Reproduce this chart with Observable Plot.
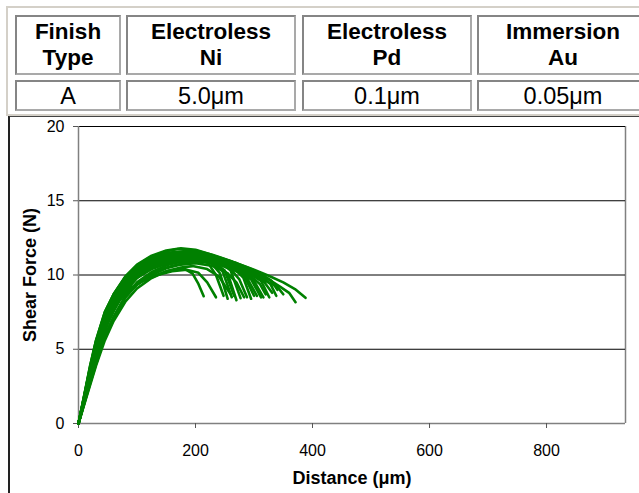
<!DOCTYPE html>
<html>
<head>
<meta charset="utf-8">
<script src="https://cdn.jsdelivr.net/npm/d3@7"></script>
<script src="https://cdn.jsdelivr.net/npm/@observablehq/plot@0.6"></script>
<style>
  html, body { margin: 0; padding: 0; background: #fff; }
  body { width: 639px; height: 493px; position: relative; overflow: hidden; font-family: "Liberation Sans", Arial, sans-serif; color: #000; }
  #finish { position: absolute; left: 6px; top: 6px; width: 720px; height: 110px; border: 2px solid #d4d0c8; box-sizing: border-box; z-index: 2; }
  .cell { position: absolute; box-sizing: border-box; border: 2px solid #858585; border-right-color: #a9a9a9; border-bottom-color: #a9a9a9;
          display: flex; flex-direction: column; align-items: center; justify-content: center; text-align: center; background: #fff; }
  .head { font-weight: bold; font-size: 22.5px; line-height: 26px; }
  .val { font-size: 23.5px; line-height: 26px; }
  #box { position: absolute; left: 8px; top: 115px; width: 700px; height: 420px; border-left: 2px solid #222; border-top: 2px solid #444; box-sizing: border-box; z-index: 0; }
  #chart { position: absolute; left: 0; top: 0; z-index: 1; }
</style>
</head>
<body>
<div id="box"></div>
<div id="chart"></div>
<div id="finish"></div>
<script>
// Coating stack of the finish under test
const headers = [["Finish", "Type"], ["Electroless", "Ni"], ["Electroless", "Pd"], ["Immersion", "Au"]];
const layerValues = ["A", "5.0μm", "0.1μm", "0.05μm"];

// Axis ticks
const xTicks = [0, 200, 400, 600, 800];
const yTicks = [0, 5, 10, 15, 20];
const xLabel = "Distance (μm)";
const yLabel = "Shear Force (N)";

// Shear force traces, [distance µm, force N]
const trace01 = [[0,0],[10,1.9],[20,3.9],[30,5.6],[45,7.5],[60,8.7],[80,9.9],[100,10.7],[125,11.3],[150,11.65],[175,11.8],[200,11.7],[225,11.4],[250,11.0],[270,10.5],[285,9.8],[300,8.6]];
const trace02 = [[0,0],[10,1.7],[20,3.5],[30,5.1],[45,7.0],[60,8.3],[80,9.5],[100,10.3],[125,10.9],[150,11.35],[185,11.6],[210,11.5],[240,11.2],[270,10.8],[295,10.4],[315,10.0],[330,9.6],[340,9.0]];
const trace03 = [[0,0],[10,1.6],[20,3.3],[30,4.9],[45,6.8],[60,8.1],[80,9.3],[100,10.1],[125,10.7],[150,11.15],[180,11.45],[210,11.4],[240,11.15],[270,10.8],[300,10.35],[325,9.95],[350,9.5],[370,9.05],[388,8.46]];
const trace04 = [[0,0],[10,1.55],[20,3.1],[30,4.6],[45,6.4],[60,7.8],[80,9.0],[100,9.9],[125,10.6],[150,11.0],[180,11.3],[205,11.35],[235,11.1],[265,10.75],[300,10.15],[325,9.7],[345,9.2],[360,8.8],[371,8.17]];
const trace05 = [[0,0],[10,1.85],[20,3.7],[30,5.4],[45,7.3],[60,8.5],[80,9.7],[100,10.4],[125,10.9],[150,11.15],[175,11.3],[200,11.25],[220,10.9],[235,10.0],[248,8.6]];
const trace06 = [[0,0],[10,1.5],[20,3.0],[30,4.5],[45,6.3],[60,7.6],[80,8.9],[100,9.8],[125,10.5],[150,10.9],[175,11.1],[200,11.2],[225,11.0],[245,10.4],[262,8.5]];
const trace07 = [[0,0],[10,1.9],[20,3.8],[30,5.5],[45,7.4],[60,8.6],[80,9.8],[100,10.5],[125,11.1],[150,11.4],[180,11.5],[210,11.35],[240,10.95],[260,10.3],[277,8.44]];
const trace08 = [[0,0],[10,1.6],[20,3.2],[30,4.7],[45,6.5],[60,7.9],[80,9.1],[100,9.9],[125,10.5],[150,10.85],[180,11.05],[205,11.1],[235,10.85],[260,10.4],[275,9.7],[288,8.5]];
const trace09 = [[0,0],[10,1.75],[20,3.5],[30,5.1],[45,7.0],[60,8.3],[80,9.5],[100,10.25],[125,10.85],[150,11.15],[175,11.3],[200,11.3],[230,11.05],[260,10.6],[285,10.0],[305,8.6]];
const trace10 = [[0,0],[10,1.5],[20,3.05],[30,4.55],[45,6.3],[60,7.7],[80,8.95],[100,9.8],[125,10.4],[150,10.75],[180,10.95],[210,11.0],[240,10.8],[270,10.35],[295,9.9],[310,9.4],[320,8.7]];
const trace11 = [[0,0],[10,1.8],[20,3.7],[30,5.4],[45,7.3],[60,8.55],[80,9.7],[100,10.45],[125,11.0],[150,11.3],[185,11.4],[215,11.25],[245,10.9],[275,10.45],[300,10.0],[318,9.5],[331,8.8]];
const trace12 = [[0,0],[10,1.7],[20,3.4],[30,5.0],[45,6.9],[60,8.2],[80,9.4],[100,10.15],[125,10.75],[150,11.05],[175,11.2],[200,11.2],[225,10.9],[242,10.1],[255,8.4]];
const trace13 = [[0,0],[10,1.4],[20,2.8],[30,4.1],[45,5.9],[60,7.2],[80,8.6],[100,9.5],[125,10.2],[150,10.65],[175,10.9],[200,11.0],[230,10.8],[255,10.1],[270,8.3]];
const trace14 = [[0,0],[10,1.95],[20,3.9],[30,5.6],[45,7.5],[60,8.7],[80,9.85],[100,10.6],[125,11.2],[150,11.5],[180,11.6],[210,11.45],[240,11.05],[265,10.5],[282,9.8],[295,8.4]];
const trace15 = [[0,0],[10,1.35],[20,2.7],[30,4.0],[45,5.8],[60,7.1],[80,8.5],[100,9.4],[125,10.1],[150,10.5],[180,10.8],[210,10.9],[240,10.7],[270,10.25],[295,9.7],[312,8.5]];
const trace16 = [[0,0],[10,1.65],[20,3.3],[30,4.9],[45,6.8],[60,8.1],[80,9.3],[100,10.1],[125,10.7],[150,11.05],[175,11.25],[200,11.3],[230,11.1],[260,10.7],[290,10.15],[312,9.6],[326,8.5]];
const trace17 = [[0,0],[10,1.55],[20,3.1],[30,4.6],[45,6.4],[60,7.75],[80,9.0],[100,9.85],[125,10.5],[150,10.85],[190,11.1],[220,11.0],[250,10.7],[280,10.3],[305,9.9],[325,9.5],[340,9.2],[350,8.7]];
const trace18 = [[0,0],[10,1.4],[20,2.75],[30,4.1],[45,5.85],[60,7.15],[80,8.5],[100,9.35],[125,10.0],[150,10.45],[175,10.7],[200,10.8],[230,10.6],[255,10.1],[270,9.5],[283,8.5]];
const trace19 = [[0,0],[10,1.3],[20,2.6],[30,3.9],[45,5.6],[60,6.9],[80,8.2],[100,9.1],[125,9.8],[150,10.25],[175,10.5],[195,10.6],[220,10.4],[240,9.9],[260,8.7]];
const trace20 = [[0,0],[10,1.5],[20,3.0],[30,4.5],[50,6.9],[70,8.4],[90,9.15],[110,9.6],[130,9.95],[155,10.3],[180,10.45],[195,10.1],[205,9.4],[214,8.57]];
const trace21 = [[0,0],[10,1.45],[20,2.9],[30,4.4],[50,6.8],[70,8.3],[90,9.1],[110,9.6],[135,10.0],[160,10.25],[185,10.35],[205,10.15],[220,9.5],[235,8.5]];
const trace22 = [[0,0],[10,1.85],[20,3.75],[30,5.45],[45,7.4],[60,8.65],[80,9.85],[100,10.65],[125,11.25],[150,11.6],[170,11.75],[200,11.65],[230,11.35],[260,10.95],[290,10.4],[312,9.9],[328,9.4],[338,8.6]];
const trace23 = [[0,0],[10,1.75],[20,3.55],[30,5.2],[45,7.1],[60,8.4],[80,9.6],[100,10.35],[125,10.95],[150,11.25],[190,11.4],[220,11.2],[250,10.8],[280,10.2],[300,9.6],[316,8.5]];
const trace24 = [[0,0],[10,1.6],[20,3.15],[30,4.65],[45,6.5],[60,7.85],[80,9.05],[100,9.9],[125,10.55],[150,10.95],[180,11.15],[205,11.15],[230,10.9],[250,10.3],[266,8.6]];

const traces = [trace01, trace02, trace03, trace04, trace05, trace06, trace07, trace08, trace09, trace10, trace11, trace12,
                trace13, trace14, trace15, trace16, trace17, trace18, trace19, trace20, trace21, trace22, trace23, trace24];
const rows = traces.flatMap((t, i) => t.map(([d, f]) => ({trace: i, d, f})));

// Layer table above the chart
const finish = document.getElementById("finish");
const colLeft = [13, 124, 300, 475];
const colWidth = [106, 170, 170, 172];
function addCell(left, top, w, h, cls, lines) {
  const c = document.createElement("div");
  c.className = "cell " + cls;
  c.style.left = (left - 6) + "px";
  c.style.top = (top - 6) + "px";
  c.style.width = w + "px";
  c.style.height = h + "px";
  for (const line of lines) {
    const s = document.createElement("div");
    s.textContent = line;
    c.appendChild(s);
  }
  finish.appendChild(c);
}
headers.forEach((h, i) => addCell(colLeft[i], 13, colWidth[i], 60, "head", h));
layerValues.forEach((v, i) => addCell(colLeft[i], 78, colWidth[i], 31, "val", [v]));

const chart = Plot.plot({
  width: 639,
  height: 493,
  marginLeft: 78,
  marginRight: 14,
  marginTop: 126,
  marginBottom: 70,
  style: {background: "transparent", fontFamily: "'Liberation Sans', Arial, sans-serif", fontSize: "16px", color: "#000"},
  x: {domain: [0, 935]},
  y: {domain: [0, 20]},
  marks: [
    Plot.ruleX([935], {stroke: "#808080", strokeWidth: 1.5}),
    Plot.ruleY([5, 10, 15, 20], {stroke: "#000", strokeWidth: 1}),
    Plot.ruleX([0], {stroke: "#808080", strokeWidth: 1.5}),
    Plot.ruleY([0], {stroke: "#808080", strokeWidth: 1.5}),
    Plot.axisX({ticks: xTicks, tickSize: 5, tickPadding: 16, stroke: "#555", label: null, fontSize: 16, fill: "#000"}),
    Plot.axisY({ticks: yTicks, tickSize: 5, tickPadding: 9, stroke: "#555", label: null, fontSize: 16, fill: "#000"}),
    Plot.line(rows, {x: "d", y: "f", z: "trace", stroke: "#008000", strokeWidth: 2.6, curve: "linear"}),
    Plot.text([xLabel], {frameAnchor: "bottom", lineAnchor: "middle", dy: 55, text: d => d, fontWeight: "bold", fontSize: 18, fill: "#000"}),
    Plot.text([yLabel], {frameAnchor: "left", textAnchor: "middle", lineAnchor: "middle", dx: -48, rotate: -90, text: d => d, fontWeight: "bold", fontSize: 18, fill: "#000"})
  ]
});
document.getElementById("chart").appendChild(chart);
</script>
</body>
</html>
